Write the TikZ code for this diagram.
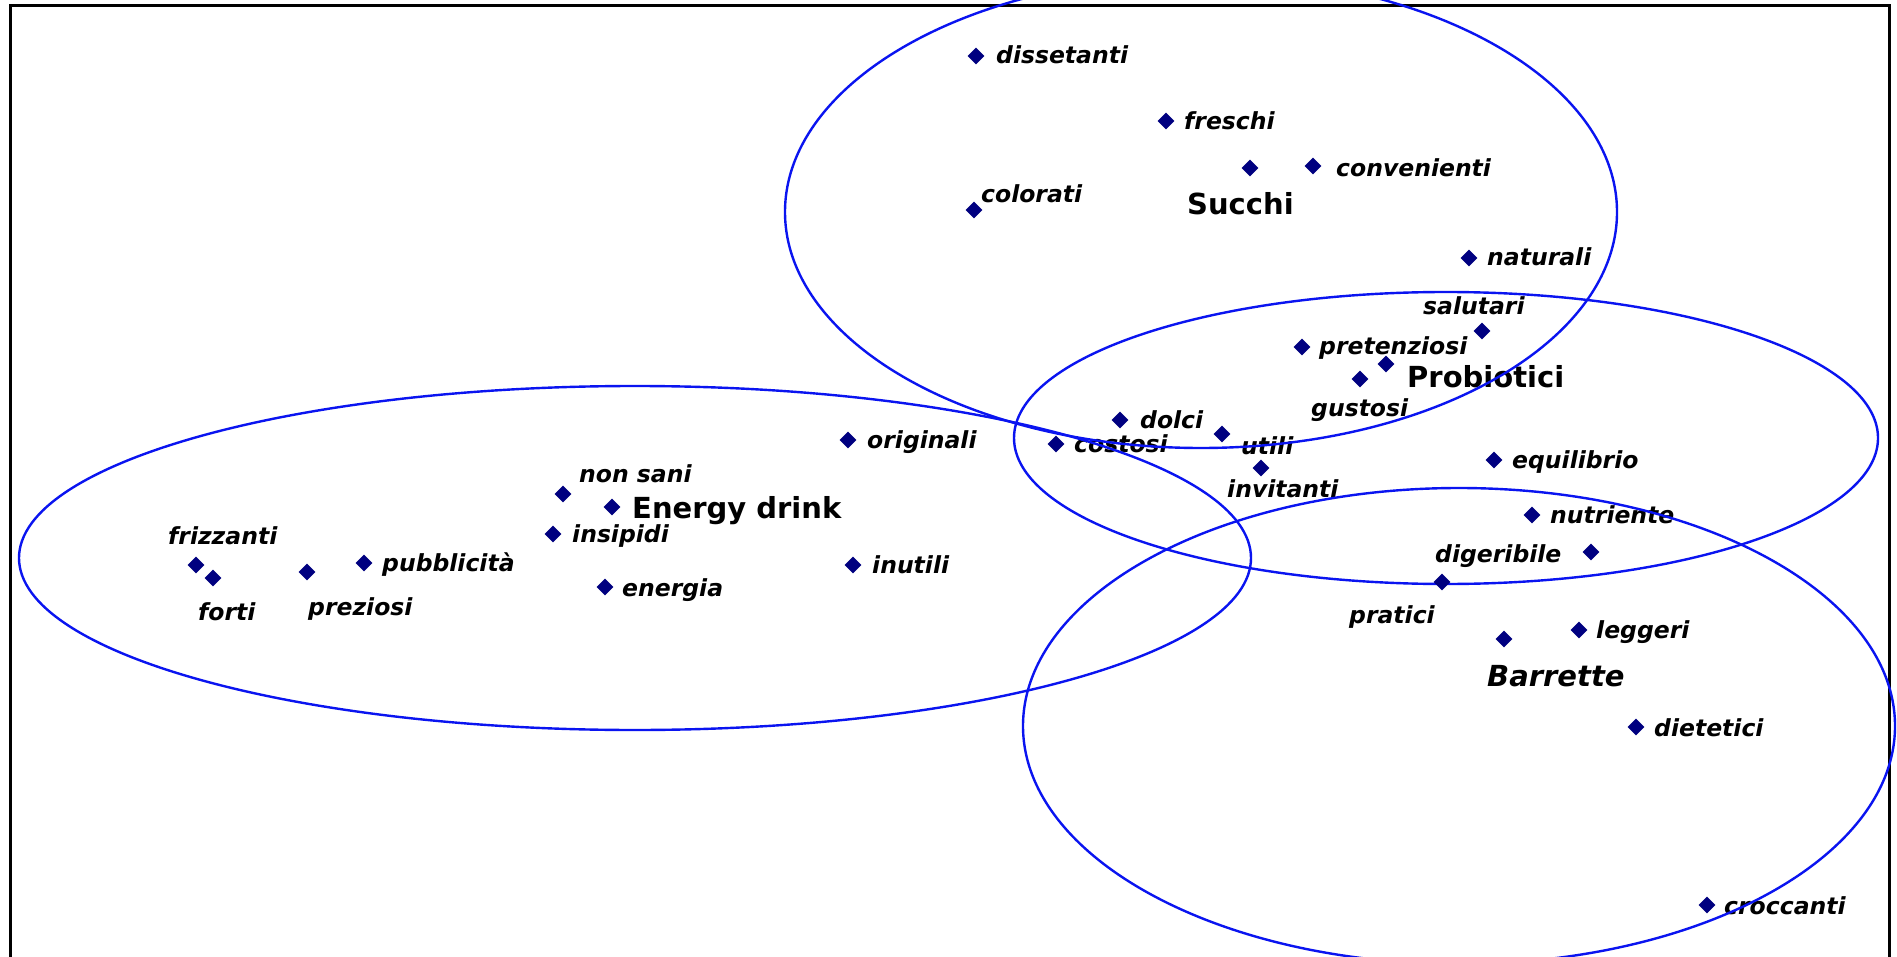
\documentclass[tikz,border=0pt]{standalone}
\usepackage{fontspec}
\setmainfont{DejaVu Sans}
\usetikzlibrary{shapes.geometric}
\definecolor{mark}{HTML}{000080}
\definecolor{ring}{HTML}{0A14F0}
\tikzset{
  pt/.style={diamond, aspect=1, minimum size=17pt, inner sep=0pt, fill=mark, draw=none},
  lbl/.style={anchor=base west, inner sep=0pt, font=\fontsize{23.5}{28}\selectfont\bfseries\itshape},
  cat/.style={anchor=base west, inner sep=0pt, font=\fontsize{29}{34}\selectfont\bfseries},
  catit/.style={anchor=base west, inner sep=0pt, font=\fontsize{29}{34}\selectfont\bfseries\itshape},
  ring/.style={draw=ring, line width=2.4pt},
  frame/.style={draw=black, line width=3pt}
}
\begin{document}
\begin{tikzpicture}[x=1pt,y=-1pt]
\useasboundingbox (0,0) rectangle (1897,957);
\clip (0,0) rectangle (1897,957);
\fill[white] (0,0) rectangle (1897,957);
\draw[frame] (10.5,6) rectangle (1889.5,990);

% labels
\node[lbl] (ldis) at (996,64) {dissetanti};
\node[lbl] (lfre) at (1184,130) {freschi};
\node[lbl] (lcon) at (1336,177) {convenienti};
\node[lbl] (lcol) at (981,203) {colorati};
\node[cat] (lsuc) at (1187,215) {Succhi};
\node[lbl] (lnat) at (1487,266) {naturali};
\node[lbl] (lsal) at (1423,315) {salutari};
\node[lbl] (lpre) at (1319,355) {pretenziosi};
\node[cat] (lpro) at (1407,387) {Probiotici};
\node[lbl] (lgus) at (1311,416) {gustosi};
\node[lbl] (ldol) at (1140,428) {dolci};
\node[lbl] (lcos) at (1074,452) {costosi};
\node[lbl] (luti) at (1241,454) {utili};
\node[lbl] (linv) at (1227,497) {invitanti};
\node[lbl] (lori) at (867,448) {originali};
\node[lbl] (lequ) at (1512,468) {equilibrio};
\node[lbl] (lnon) at (579,482) {non sani};
\node[cat] (lene) at (632,518) {Energy drink};
\node[lbl] (lins) at (572,542) {insipidi};
\node[lbl] (lfri) at (168,544) {frizzanti};
\node[lbl] (lpub) at (382,571) {pubblicità};
\node[lbl] (lfor) at (198,620) {forti};
\node[lbl] (lprz) at (308,615) {preziosi};
\node[lbl] (lnrg) at (622,596) {energia};
\node[lbl] (linu) at (872,573) {inutili};
\node[lbl] (lnut) at (1550,523) {nutriente};
\node[lbl] (ldig) at (1435,562) {digeribile};
\node[lbl] (lpra) at (1349,623) {pratici};
\node[lbl] (lleg) at (1596,638) {leggeri};
\node[catit] (lbar) at (1487,686) {Barrette};
\node[lbl] (ldie) at (1654,736) {dietetici};
\node[lbl] (lcro) at (1724,914) {croccanti};

% group outlines
\draw[ring] (1201,212) ellipse [x radius=416pt, y radius=236pt];
\draw[ring] (635,558) ellipse [x radius=616pt, y radius=172pt];
\draw[ring] (1446,438) ellipse [x radius=432pt, y radius=146pt];
\draw[ring] (1459,726) ellipse [x radius=436pt, y radius=238pt];

% markers
\node[pt] (pdis) at (976,56) {};
\node[pt] (pfre) at (1166,121) {};
\node[pt] (psuc) at (1250,168) {};
\node[pt] (pcon) at (1313,166) {};
\node[pt] (pcol) at (974,210) {};
\node[pt] (pnat) at (1469,258) {};
\node[pt] (psal) at (1482,331) {};
\node[pt] (ppre) at (1302,347) {};
\node[pt] (ppro) at (1386,364) {};
\node[pt] (pgus) at (1360,379) {};
\node[pt] (pdol) at (1120,420) {};
\node[pt] (puti) at (1222,434) {};
\node[pt] (pcos) at (1056,444) {};
\node[pt] (pinv) at (1261,468) {};
\node[pt] (pori) at (848,440) {};
\node[pt] (pequ) at (1494,460) {};
\node[pt] (pnon) at (563,494) {};
\node[pt] (pene) at (612,507) {};
\node[pt] (pins) at (553,534) {};
\node[pt] (pfri) at (196,565) {};
\node[pt] (pfor) at (213,578) {};
\node[pt] (pprz) at (307,572) {};
\node[pt] (ppub) at (364,563) {};
\node[pt] (pnrg) at (605,587) {};
\node[pt] (pinu) at (853,565) {};
\node[pt] (pnut) at (1532,515) {};
\node[pt] (pdig) at (1591,552) {};
\node[pt] (ppra) at (1442,582) {};
\node[pt] (pbar) at (1504,639) {};
\node[pt] (pleg) at (1579,630) {};
\node[pt] (pdie) at (1636,727) {};
\node[pt] (pcro) at (1707,905) {};
\end{tikzpicture}
\end{document}
